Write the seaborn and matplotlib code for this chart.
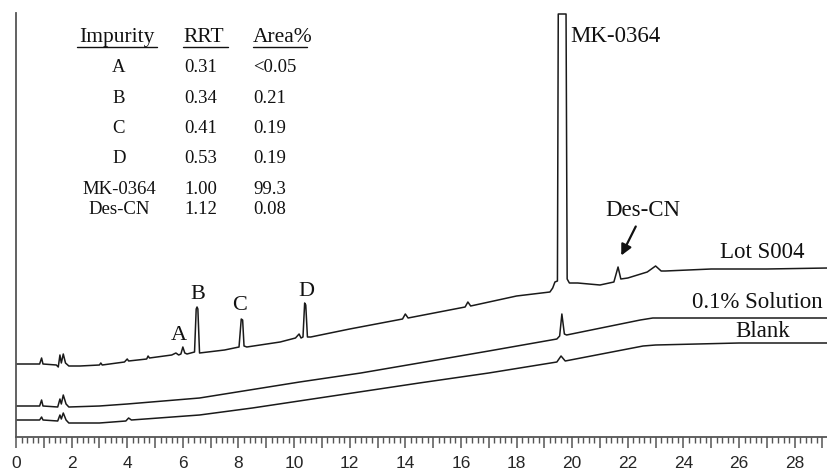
import seaborn as sns
import pandas as pd
import matplotlib.pyplot as plt
from matplotlib.ticker import MultipleLocator, FuncFormatter

sns.set_theme(style="white")
plt.rcParams['font.family'] = ['Liberation Serif', 'DejaVu Serif']

# Tracce del cromatogramma (tempo in minuti, segnale in unita' arbitrarie)
lot_x = [0.0, 0.85, 0.92, 0.97, 1.45, 1.52, 1.58, 1.63, 1.70, 1.78, 1.90, 2.3, 3.0, 3.05, 3.1,
         3.9, 4.0, 4.05, 4.7, 4.75, 4.8, 5.6, 5.75, 5.85, 5.93, 6.0, 6.07, 6.15, 6.42, 6.48, 6.51,
         6.54, 6.6, 7.5, 8.02, 8.1, 8.15, 8.2, 8.3, 9.5, 10.05, 10.18, 10.25, 10.32, 10.38, 10.42,
         10.48, 10.6, 12.0, 13.9, 14.0, 14.1, 16.15, 16.25, 16.35, 18.0, 19.2, 19.3, 19.38, 19.47,
         19.5, 19.78, 19.82, 19.9, 20.2, 21.0, 21.5, 21.65, 21.75, 22.0, 22.7, 23.0, 23.2, 23.35,
         25.0, 27.0, 29.2]
lot_y = [73, 73, 79, 73, 72, 70, 82, 74, 83, 74, 71, 71, 72, 74, 72,
         75, 78, 76, 78, 81, 79, 82, 84, 82, 83, 90, 84, 83, 85, 128, 130,
         128, 84, 87, 90, 118, 117, 91, 90, 95, 99, 103, 99, 100, 134, 132,
         100, 100, 108, 118, 123, 119, 130, 135, 131, 141, 145, 149, 155, 156,
         423, 423, 158, 154, 154, 152, 155, 170, 158, 159, 165, 171, 166, 166,
         168, 168, 169]

sol_x = [0.0, 0.85, 0.92, 0.97, 1.5, 1.58, 1.63, 1.70, 1.80, 1.9, 3.0, 4.0, 6.6, 8.4, 10.2,
         12.4, 14.5, 17.0, 19.45, 19.55, 19.63, 19.72, 19.8, 22.45, 22.9, 25.0, 27.0, 29.2]
sol_y = [31, 31, 37, 31, 30, 38, 33, 42, 33, 30, 31, 33, 39, 47, 55,
         64, 74, 86, 98, 101, 123, 103, 102, 117, 119, 119, 119, 119]

blank_x = [0.0, 0.85, 0.92, 0.97, 1.5, 1.58, 1.63, 1.70, 1.80, 1.9, 3.0, 3.95, 4.05, 4.15, 6.6,
           8.5, 10.9, 14.5, 17.0, 19.45, 19.6, 19.75, 22.55, 23.0, 24.5, 26.0, 29.2]
blank_y = [17, 17, 20, 17, 16, 22, 18, 24, 17, 14, 14, 16, 19, 17, 22,
           29, 39, 54, 64, 75, 81, 76, 91, 92, 93, 94, 94]

# Tabella delle impurezze
impurezze = ["A", "B", "C", "D", "MK-0364", "Des-CN"]
rrt = ["0.31", "0.34", "0.41", "0.53", "1.00", "1.12"]
area = ["<0.05", "0.21", "0.19", "0.19", "99.3", "0.08"]

W, H = 828, 473
fig = plt.figure(figsize=(W / 100, H / 100), dpi=100)
ax = fig.add_axes([16 / W, 36 / H, 812 / W, 424 / H])


def fpos(px, py):
    # da pixel dell'immagine a frazione della figura
    return px / W, 1 - py / H


for xs, ys in [(lot_x, lot_y), (sol_x, sol_y), (blank_x, blank_y)]:
    df = pd.DataFrame({'tempo': xs, 'segnale': ys})
    sns.lineplot(data=df, x='tempo', y='segnale', ax=ax, color='#1a1a1a',
                 linewidth=1.1, sort=False, estimator=None)

ax.set_xlim(0, 29.2)
ax.set_ylim(0, 424)
ax.set_xlabel('')
ax.set_ylabel('')
ax.set_yticks([])
sns.despine(ax=ax, top=True, right=True)
for s in ['left', 'bottom']:
    ax.spines[s].set_color('#555555')
    ax.spines[s].set_linewidth(1.3)

ax.xaxis.set_major_locator(MultipleLocator(1))
ax.xaxis.set_minor_locator(MultipleLocator(0.2))
ax.xaxis.set_major_formatter(FuncFormatter(lambda v, p: f'{int(round(v))}' if int(round(v)) % 2 == 0 else ''))
ax.tick_params(axis='x', which='major', direction='out', length=8, width=1.1, color='#555555',
               pad=6, labelsize=12.5, bottom=True)
ax.tick_params(axis='x', which='minor', direction='out', length=4, width=1.0, color='#555555', bottom=True)
for lbl in ax.get_xticklabels():
    lbl.set_family(['Liberation Sans', 'DejaVu Sans'])

# Tabella in alto a sinistra
hdr = dict(fontsize=15.5, color='#111111', va='baseline')
fig.text(*fpos(117, 42), "Impurity", ha='center', **hdr)
fig.text(*fpos(183, 42), "RRT", ha='left', **hdr)
fig.text(*fpos(253, 42), "Area%", ha='left', **hdr)
for x0, x1 in [(77, 157), (183, 228), (253, 307)]:
    fig.add_artist(plt.Line2D([x0 / W, x1 / W], [1 - 47 / H] * 2, color='#111111', linewidth=1.0))

righe = [72, 103, 133, 163, 194, 214]
for nome, r, a, py in zip(impurezze, rrt, area, righe):
    fig.text(*fpos(119, py), nome, ha='center', va='baseline', fontsize=13.5, color='#111111')
    fig.text(*fpos(184, py), r, ha='left', va='baseline', fontsize=13.5, color='#111111')
    fig.text(*fpos(253, py), a, ha='left', va='baseline', fontsize=13.5, color='#111111')

# Etichette dei picchi
lab = dict(fontsize=16.5, color='#111111', va='baseline')
fig.text(*fpos(570, 42), "MK-0364", ha='left', **lab)
fig.text(*fpos(643, 216), "Des-CN", ha='center', **lab)
fig.text(*fpos(762, 258), "Lot S004", ha='center', **lab)
fig.text(*fpos(757, 308), "0.1% Solution", ha='center', **lab)
fig.text(*fpos(763, 337), "Blank", ha='center', **lab)
pk = dict(fontsize=16, color='#111111', va='baseline', ha='center')
fig.text(*fpos(179, 340), "A", **pk)
fig.text(*fpos(198, 299), "B", **pk)
fig.text(*fpos(240, 310), "C", **pk)
fig.text(*fpos(306, 296), "D", **pk)

ax.annotate('', xy=fpos(620, 258), xycoords='figure fraction',
            xytext=fpos(637, 224), textcoords='figure fraction',
            arrowprops=dict(arrowstyle='-|>', color='#111111', lw=1.6, mutation_scale=16))

plt.savefig('out.png', dpi=100)
